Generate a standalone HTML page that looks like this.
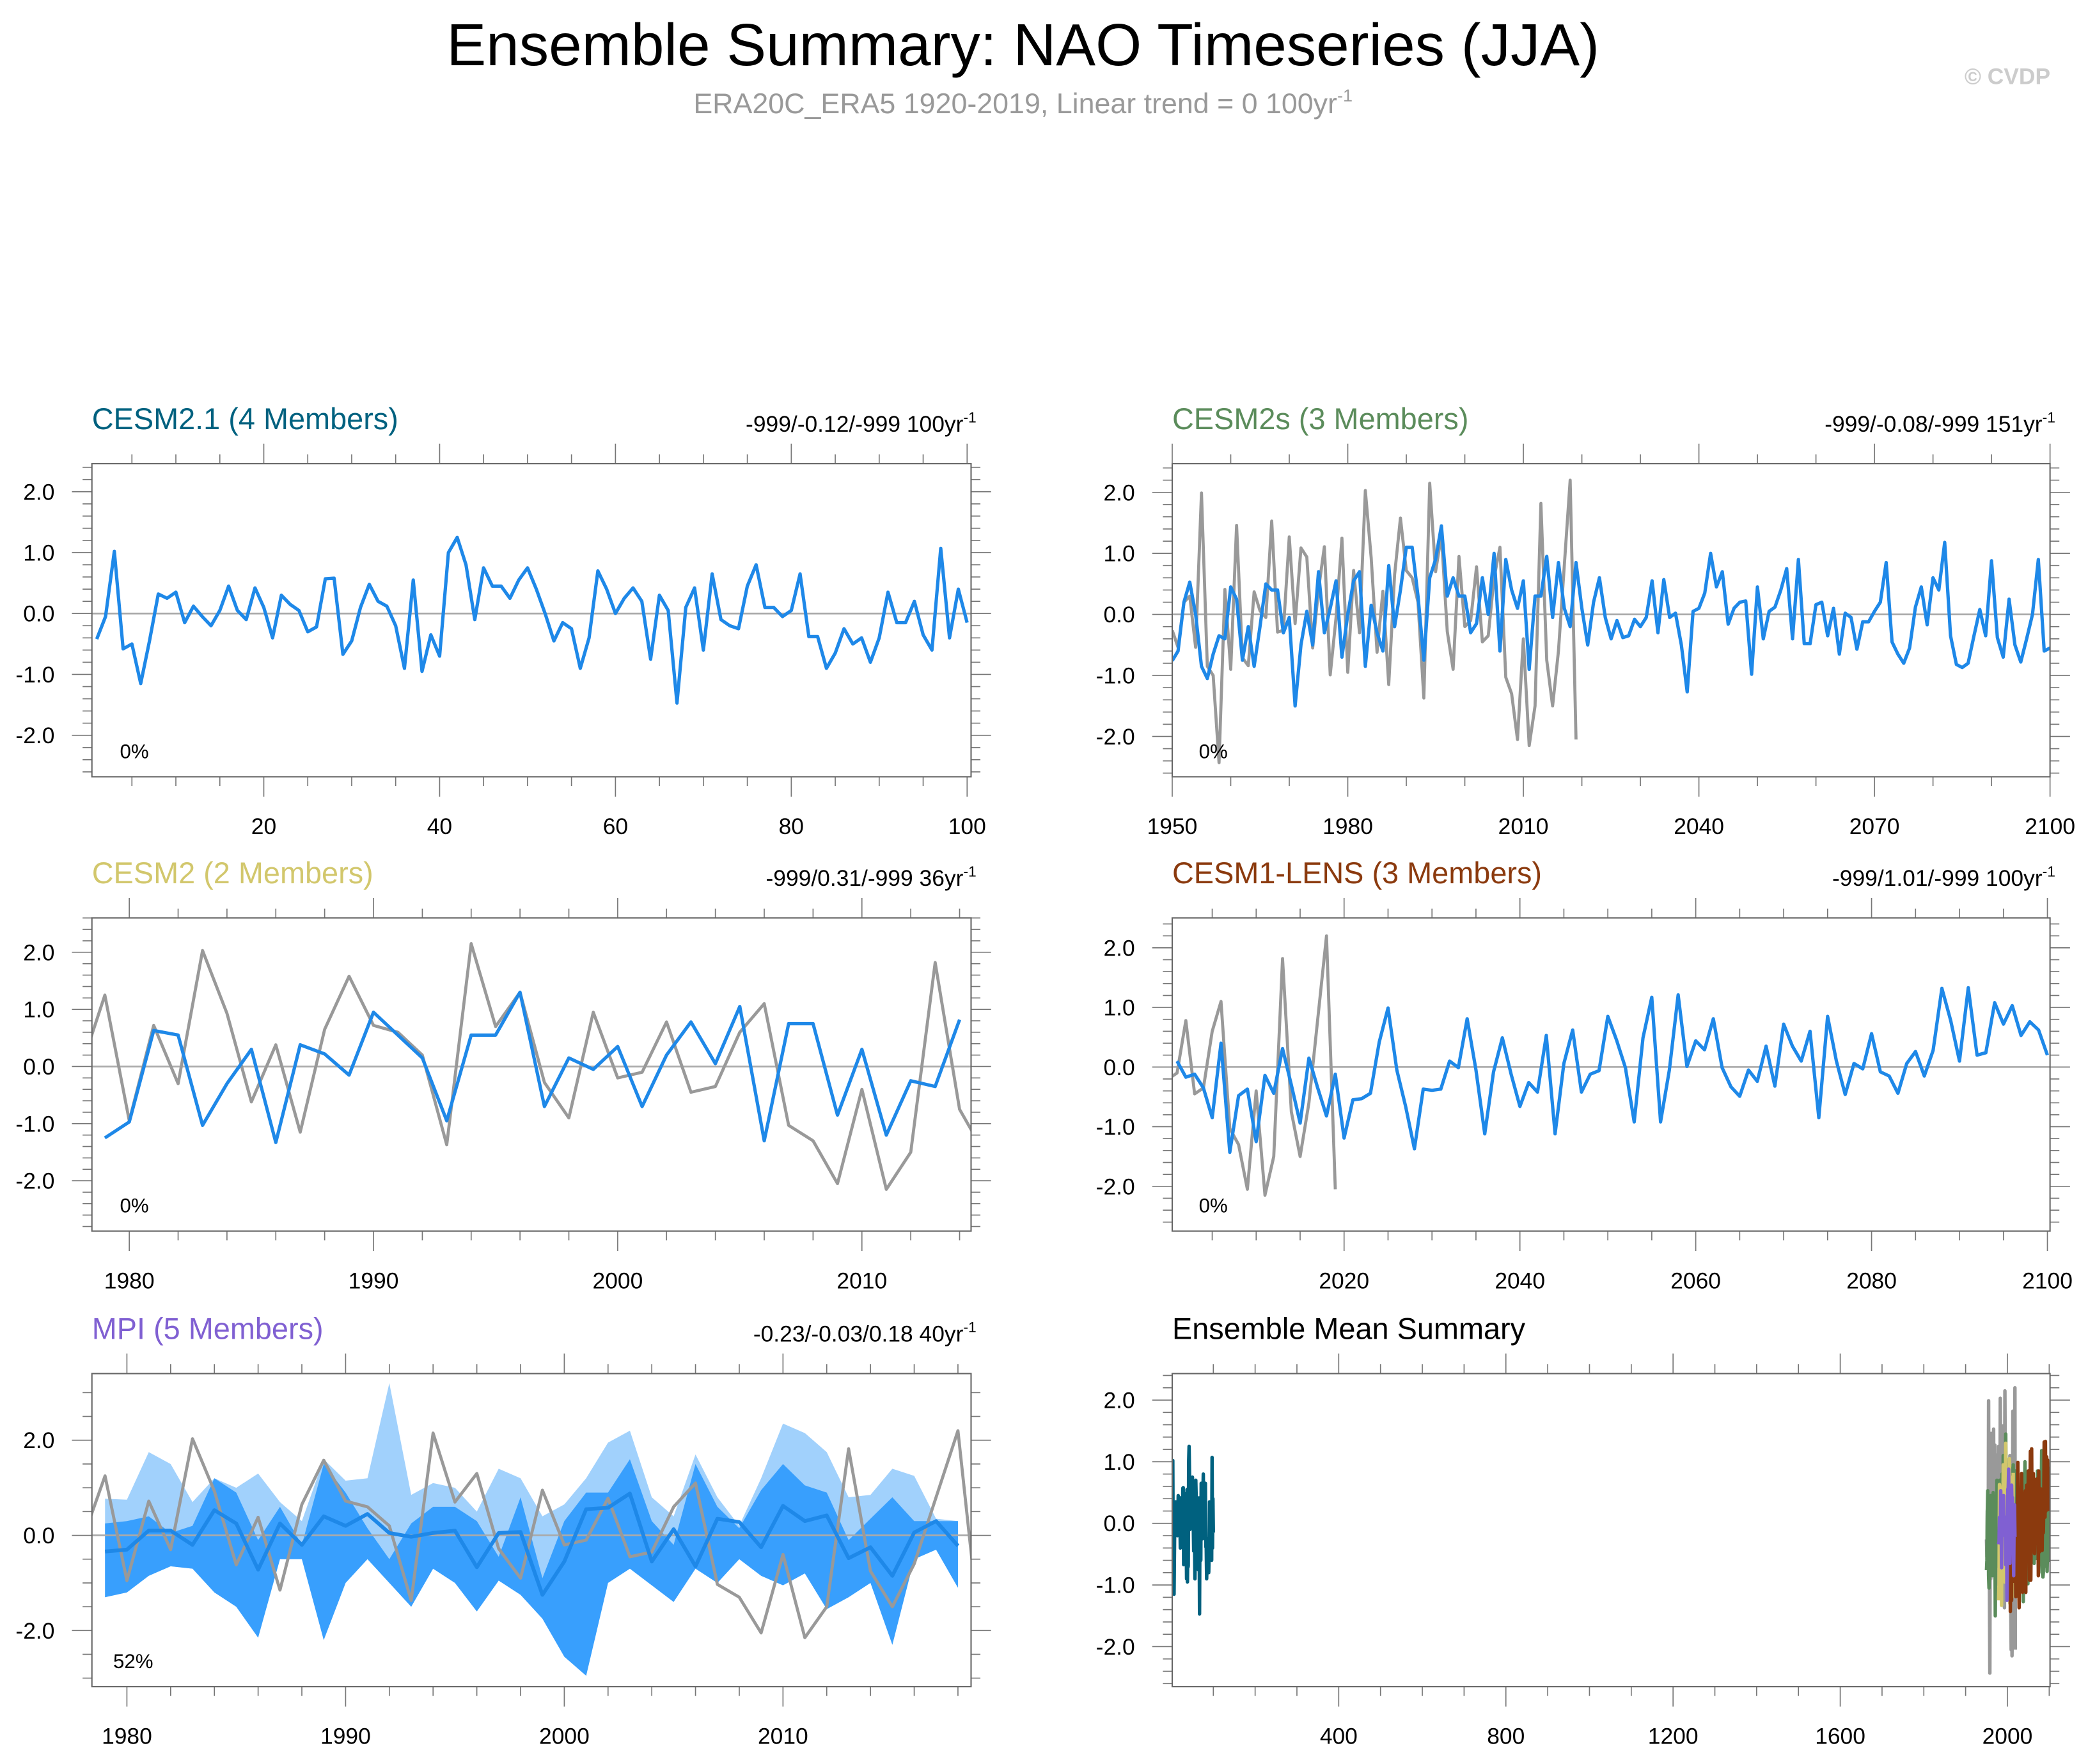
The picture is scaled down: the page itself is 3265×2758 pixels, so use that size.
<!DOCTYPE html>
<html><head><meta charset="utf-8">
<style>
html,body{margin:0;padding:0;background:#fff;}
svg{display:block;font-family:"Liberation Sans",Arial,sans-serif;}
</style></head>
<body>
<svg id="fig" xmlns="http://www.w3.org/2000/svg" width="3265" height="2758" viewBox="0 0 1567.5 1324">
<rect x="0" y="0" width="1567.5" height="1324" fill="#fff"/>
<text x="768" y="49" text-anchor="middle" font-size="44.5" fill="#000">Ensemble Summary: NAO Timeseries (JJA)</text>
<text x="768" y="85" text-anchor="middle" font-size="21.5" fill="#999">ERA20C_ERA5 1920-2019, Linear trend = 0 100yr<tspan dy="-9" font-size="13">-1</tspan></text>
<text x="1507" y="63" text-anchor="middle" font-size="17" font-weight="bold" fill="#ccc">© CVDP</text>
</svg>
<script>
// ---------- DATA ----------
const cesm21Years = Array.from({length:100},(_,i)=>i+1);
const cesm21Values = [-0.42,-0.05,1.02,-0.58,-0.5,-1.15,-0.45,0.32,0.25,0.35,-0.15,0.12,-0.05,-0.2,0.05,0.45,0.05,-0.1,0.42,0.1,-0.4,0.3,0.15,0.05,-0.3,-0.22,0.57,0.58,-0.67,-0.45,0.1,0.48,0.2,0.12,-0.2,-0.9,0.55,-0.95,-0.35,-0.7,1.0,1.25,0.8,-0.1,0.75,0.45,0.45,0.25,0.55,0.75,0.4,0.0,-0.45,-0.15,-0.25,-0.9,-0.4,0.7,0.4,0.0,0.25,0.42,0.2,-0.75,0.3,0.05,-1.47,0.1,0.42,-0.6,0.65,-0.1,-0.2,-0.25,0.45,0.8,0.1,0.1,-0.05,0.05,0.65,-0.38,-0.38,-0.9,-0.65,-0.25,-0.5,-0.4,-0.8,-0.4,0.35,-0.15,-0.15,0.2,-0.35,-0.6,1.07,-0.4,0.4,-0.15];

const obsStartYear = 1950;
const obsValues = [-0.26,-0.54,0.2,0.3,-0.54,1.99,-0.85,-1.0,-2.43,0.41,-0.9,1.46,-0.71,-0.84,0.37,0.06,-0.05,1.53,-0.29,-0.26,1.27,-0.15,1.09,0.94,-0.55,0.41,1.11,-0.99,-0.05,
1.25,-0.95,0.72,-0.3,2.03,0.93,-0.62,0.38,-1.15,0.65,1.58,0.72,0.6,0.2,-1.37,2.15,0.7,1.3,-0.28,-0.9,0.95,-0.2,-0.1,0.78,-0.45,-0.35,0.6,1.1,-1.03,-1.3,-2.05,-0.4,-2.15,-1.5,1.82,-0.75,
-1.5,-0.6,0.8,2.2,-2.05];

const cesm2sStartYear = 1950;
const cesm2sValues = [-0.76,-0.6,0.2,0.53,0.0,-0.85,-1.05,-0.65,-0.35,-0.4,0.45,0.25,-0.75,-0.2,-0.85,-0.2,0.5,0.4,0.4,-0.3,-0.05,-1.5,-0.5,0.05,-0.5,0.7,-0.3,0.1,0.55,-0.7,0.0,0.55,0.7,-0.85,0.15,-0.3,-0.6,0.8,-0.2,0.4,1.1,1.1,0.3,-0.75,0.6,0.9,1.45,0.3,0.6,0.3,0.3,-0.3,-0.15,0.6,0.0,1.0,-0.6,0.9,0.4,0.1,0.55,-0.9,0.3,0.3,0.95,-0.05,0.85,0.1,-0.2,0.85,0.1,-0.5,0.2,0.6,-0.05,-0.4,-0.1,-0.38,-0.35,-0.08,-0.2,-0.05,0.55,-0.3,0.57,-0.05,0.02,-0.5,-1.27,0.05,0.1,0.35,1.0,0.45,0.7,-0.16,0.1,0.2,0.22,-0.98,0.45,-0.4,0.05,0.12,0.4,0.75,-0.4,0.9,-0.48,-0.48,0.16,0.2,-0.35,0.1,-0.65,0.02,-0.05,-0.57,-0.12,-0.12,0.05,0.2,0.85,-0.45,-0.65,-0.8,-0.55,0.12,0.45,-0.17,0.6,0.4,1.18,-0.35,-0.82,-0.87,-0.8,-0.35,0.08,-0.35,0.88,-0.38,-0.7,0.25,-0.5,-0.78,-0.4,0.0,0.9,-0.6,-0.55];

const cesm2StartYear = 1979;
const cesm2Values = [-1.25,-0.97,0.63,0.55,-1.03,-0.3,0.3,-1.33,0.38,0.22,-0.15,0.95,0.55,0.15,-0.95,0.55,0.55,1.3,-0.7,0.15,-0.05,0.35,-0.7,0.2,0.78,0.05,1.05,-1.3,0.75,0.75,-0.85,0.3,-1.2,-0.25,-0.35,0.82];

const lensStartYear = 2001;
const lensValues = [0.1,-0.17,-0.12,-0.35,-0.85,0.4,-1.43,-0.48,-0.37,-1.25,-0.14,-0.44,0.31,-0.3,-0.94,0.15,-0.35,-0.82,-0.12,-1.19,-0.55,-0.53,-0.44,0.42,0.99,-0.05,-0.66,-1.37,-0.37,-0.39,-0.37,0.1,-0.01,0.81,-0.05,-1.12,-0.08,0.49,-0.12,-0.66,-0.26,-0.42,0.53,-1.12,0.06,0.62,-0.42,-0.12,-0.06,0.85,0.45,-0.01,-0.92,0.49,1.17,-0.92,-0.05,1.21,0.01,0.44,0.29,0.81,-0.01,-0.33,-0.49,-0.05,-0.24,0.35,-0.32,0.72,0.35,0.1,0.6,-0.85,0.85,0.1,-0.46,0.06,-0.03,0.56,-0.08,-0.15,-0.44,0.06,0.26,-0.15,0.28,1.32,0.78,0.1,1.33,0.2,0.24,1.08,0.72,1.03,0.53,0.76,0.62,0.2];

const mpiStartYear = 1979;
const mpiMean = [-0.34,-0.3,0.1,0.1,-0.2,0.53,0.25,-0.72,0.25,-0.2,0.4,0.2,0.45,0.05,-0.03,0.05,0.1,-0.67,0.05,0.07,-1.25,-0.55,0.55,0.58,0.88,-0.55,0.13,-0.65,0.35,0.28,-0.25,0.62,0.3,0.42,-0.48,-0.25,-0.85,0.06,0.3,-0.22];
const mpiMax = [0.77,0.75,1.75,1.5,0.7,1.2,1.0,1.3,0.7,0.3,1.6,1.15,1.2,3.2,0.85,1.1,1.0,0.5,1.4,1.2,0.4,0.65,1.2,1.95,2.2,0.8,0.4,1.7,0.8,0.2,1.2,2.35,2.15,1.75,0.8,0.85,1.4,1.25,0.35,0.3];
const mpiUpper = [0.25,0.3,0.4,0.05,0.2,1.2,0.9,-0.1,0.6,-0.2,1.5,0.9,0.15,-0.5,0.25,0.6,0.6,0.3,-0.45,0.8,-0.9,0.3,0.9,0.9,1.6,0.3,-0.2,1.5,0.6,0.15,0.95,1.5,1.05,0.9,-0.1,0.35,0.8,0.3,0.3,0.3];
const mpiLower = [-1.3,-1.2,-0.85,-0.65,-0.7,-1.2,-1.5,-2.15,-0.5,-0.5,-2.2,-1.0,-0.5,-1.0,-1.5,-0.7,-1.0,-1.6,-0.95,-1.25,-1.75,-2.55,-2.95,-1.0,-0.7,-1.05,-1.4,-0.7,-1.0,-0.5,-0.85,-1.05,-0.8,-1.55,-1.3,-1.0,-2.3,-0.5,-0.3,-1.1];

const yTickLabels = ["2.0","1.0","0.0","-1.0","-2.0"];
const yTickLabelsMPI = ["2.0","0.0","-2.0"];
const xTicks1 = [20,40,60,80,100];
const xTicks2 = [1950,1980,2010,2040,2070,2100];
const xTicks3 = [1980,1990,2000,2010];
const xTicks4 = [2020,2040,2060,2080,2100];
const xTicks5 = [1980,1990,2000,2010];
const xTicks6 = [400,800,1200,1600,2000];

// ---------- HELPERS ----------
const NS="http://www.w3.org/2000/svg";
const svg=document.getElementById('fig');
function el(tag,attrs,parent){const e=document.createElementNS(NS,tag);for(const k in attrs)e.setAttribute(k,attrs[k]);(parent||svg).appendChild(e);return e;}
function years(start,n){return Array.from({length:n},(_,i)=>start+i);}

function makePanel(p){
  const g=el('g',{});
  
  
  const sx=v=>p.x0+(v-p.xmin)/(p.xmax-p.xmin)*(p.x1-p.x0);
  const sy=v=>p.y0+(p.ymax-v)/(p.ymax-p.ymin)*(p.y1-p.y0);
  const clipId='clip-'+p.name;
  const cp=el('clipPath',{id:clipId},g);
  el('rect',{x:p.x0,y:p.y0,width:p.x1-p.x0,height:p.y1-p.y0},cp);
  const plot=el('g',{'clip-path':'url(#'+clipId+')'},g);
  const tk=el('g',{stroke:'#777','stroke-width':0.8},g);
  const eps=1e-6;
  for(let v=Math.ceil(p.ymin/p.yMinor)*p.yMinor; v<=p.ymax+eps; v+=p.yMinor){
    const major=Math.abs(v/p.yMajor-Math.round(v/p.yMajor))<1e-4;
    const L=major?15:7, y=sy(v);
    el('line',{x1:p.x0-L,y1:y,x2:p.x0,y2:y},tk);
    el('line',{x1:p.x1,y1:y,x2:p.x1+L,y2:y},tk);
  }
  for(let v=Math.ceil(p.xmin/p.xMinor)*p.xMinor; v<=p.xmax+eps; v+=p.xMinor){
    const major=Math.abs(v/p.xMajor-Math.round(v/p.xMajor))<1e-4;
    const L=major?15:7, x=sx(v);
    el('line',{x1:x,y1:p.y1,x2:x,y2:p.y1+L},tk);
    el('line',{x1:x,y1:p.y0-L,x2:x,y2:p.y0},tk);
  }
  p.yLabels.forEach(s=>{
    const t=el('text',{x:p.x0-28,y:sy(parseFloat(s))+6,'text-anchor':'end','font-size':17,fill:'#000'},g);
    t.textContent=s;
    
    
  });
  p.xLabels.forEach(v=>{
    const t=el('text',{x:sx(v),y:p.y1+43,'text-anchor':'middle','font-size':17,fill:'#000'},g);
    t.textContent=String(v);
    
    
  });
  const tt=el('text',{x:p.x0,y:p.y0-26,'font-size':22.5,fill:p.titleColor},g);
  tt.textContent=p.title;
  
  
  if(p.right){
    const rt=el('text',{x:p.x1+4,y:p.y0-24,'text-anchor':'end','font-size':17,fill:'#000'},g);
    rt.textContent=p.right;
    const sup=el('tspan',{dy:-7,'font-size':11},rt);
    sup.textContent='-1';
    
    
  }
  if(p.pct){
    const pt=el('text',{x:p.pctX,y:p.y1-14,'font-size':15,fill:'#000'},g);
    pt.textContent=p.pct;
    
    
  }
  p.sx=sx;p.sy=sy;p.plot=plot;p.g=g;
  return p;
}
function zeroLine(p){
  const l=el('line',{x1:p.x0,x2:p.x1,y1:p.sy(0),y2:p.sy(0),stroke:'#aaa','stroke-width':1.3},p.plot);
  
  
}
function series(p,xs,ys,color,w,name){
  const d=xs.map((x,i)=>(i?'L':'M')+p.sx(x).toFixed(2)+','+p.sy(ys[i]).toFixed(2)).join('');
  const path=el('path',{d:d,fill:'none',stroke:color,'stroke-width':w,'stroke-linejoin':'round'},p.plot);
  
  
}
function band(p,xs,lo,hi,color,name){
  let d=xs.map((x,i)=>(i?'L':'M')+p.sx(x).toFixed(2)+','+p.sy(hi[i]).toFixed(2)).join('');
  for(let i=xs.length-1;i>=0;i--) d+='L'+p.sx(xs[i]).toFixed(2)+','+p.sy(lo[i]).toFixed(2);
  const path=el('path',{d:d+'Z',fill:color,stroke:'none'},p.plot);
  
  
}
function frame(p){
  const r=el('rect',{x:p.x0,y:p.y0,width:p.x1-p.x0,height:p.y1-p.y0,fill:'none',stroke:'#666','stroke-width':1},p.g);
  
  
}

const BLUE='#1e88e8', GRAY='#999999';
const obsYears=years(obsStartYear,obsValues.length);

const p1=makePanel({name:'panel-cesm2-1',x0:69,x1:729,y0:348,y1:583,xmin:0.45,xmax:100.45,ymin:-2.68,ymax:2.46,
  xMinor:5,xMajor:20,yMinor:0.2,yMajor:1,yLabels:yTickLabels,xLabels:xTicks1,title:'CESM2.1 (4 Members)',titleColor:'#00617f',
  right:'-999/-0.12/-999 100yr',pct:'0%',pctX:90});
zeroLine(p1);
series(p1,cesm21Years,cesm21Values,BLUE,2.5,'cesm2-1-ensemble-mean-line');
frame(p1);

const p2=makePanel({name:'panel-cesm2s',x0:880,x1:1539,y0:348,y1:583,xmin:1950,xmax:2100,ymin:-2.66,ymax:2.47,
  xMinor:10,xMajor:30,yMinor:0.2,yMajor:1,yLabels:yTickLabels,xLabels:xTicks2,title:'CESM2s (3 Members)',titleColor:'#5b8c5b',
  right:'-999/-0.08/-999 151yr',pct:'0%',pctX:900});
zeroLine(p2);
series(p2,obsYears,obsValues,GRAY,2.3,'observed-line');
series(p2,years(cesm2sStartYear,cesm2sValues.length),cesm2sValues,BLUE,2.5,'cesm2s-ensemble-mean-line');
frame(p2);

const p3=makePanel({name:'panel-cesm2',x0:69,x1:729,y0:689,y1:924,xmin:1978.47,xmax:2014.47,ymin:-2.88,ymax:2.6,
  xMinor:2,xMajor:10,yMinor:0.2,yMajor:1,yLabels:yTickLabels,xLabels:xTicks3,title:'CESM2 (2 Members)',titleColor:'#d2c76c',
  right:'-999/0.31/-999 36yr',pct:'0%',pctX:90});
zeroLine(p3);
series(p3,obsYears,obsValues,GRAY,2.3,'observed-line');
series(p3,years(cesm2StartYear,cesm2Values.length),cesm2Values,BLUE,2.5,'cesm2-ensemble-mean-line');
frame(p3);

const p4=makePanel({name:'panel-cesm1-lens',x0:880,x1:1539,y0:689,y1:924,xmin:2000.45,xmax:2100.3,ymin:-2.75,ymax:2.5,
  xMinor:5,xMajor:20,yMinor:0.2,yMajor:1,yLabels:yTickLabels,xLabels:xTicks4,title:'CESM1-LENS (3 Members)',titleColor:'#8b3a0e',
  right:'-999/1.01/-999 100yr',pct:'0%',pctX:900});
zeroLine(p4);
series(p4,obsYears,obsValues,GRAY,2.3,'observed-line');
series(p4,years(lensStartYear,lensValues.length),lensValues,BLUE,2.5,'cesm1-lens-ensemble-mean-line');
frame(p4);

const p5=makePanel({name:'panel-mpi',x0:69,x1:729,y0:1031,y1:1266,xmin:1978.4,xmax:2018.6,ymin:-3.18,ymax:3.4,
  xMinor:2,xMajor:10,yMinor:0.5,yMajor:2,yLabels:yTickLabelsMPI,xLabels:xTicks5,title:'MPI (5 Members)',titleColor:'#8060d2',
  right:'-0.23/-0.03/0.18 40yr',pct:'52%',pctX:85});
const mpiYears=years(mpiStartYear,mpiMean.length);
band(p5,mpiYears,mpiLower,mpiMax,'#a1d1fc','mpi-min-max-band');
band(p5,mpiYears,mpiLower,mpiUpper,'#389ffd','mpi-spread-band');
zeroLine(p5);
series(p5,obsYears,obsValues,GRAY,2.3,'observed-line');
series(p5,mpiYears,mpiMean,'#1e88e8',2.8,'mpi-ensemble-mean-line');
frame(p5);

const p6=makePanel({name:'panel-ensemble-mean-summary',x0:880,x1:1539,y0:1031,y1:1266,xmin:1.6,xmax:2102,ymin:-2.65,ymax:2.43,
  xMinor:100,xMajor:400,yMinor:0.2,yMajor:1,yLabels:yTickLabels,xLabels:xTicks6,title:'Ensemble Mean Summary',titleColor:'#000',
  right:null,pct:null});
series(p6,obsYears,obsValues,GRAY,2.6,'observed-summary-line');
series(p6,years(cesm2sStartYear,cesm2sValues.length),cesm2sValues,'#5b8c5b',2.6,'cesm2s-summary-line');
series(p6,years(cesm2StartYear,cesm2Values.length),cesm2Values,'#d2c76c',2.6,'cesm2-summary-line');
series(p6,years(lensStartYear,lensValues.length),lensValues,'#8b3a0e',2.6,'cesm1-lens-summary-line');
series(p6,mpiYears,mpiMean,'#8060d2',2.6,'mpi-summary-line');
series(p6,cesm21Years,cesm21Values,'#00617f',2.6,'cesm2-1-summary-line');
frame(p6);
</script>
</body></html>
